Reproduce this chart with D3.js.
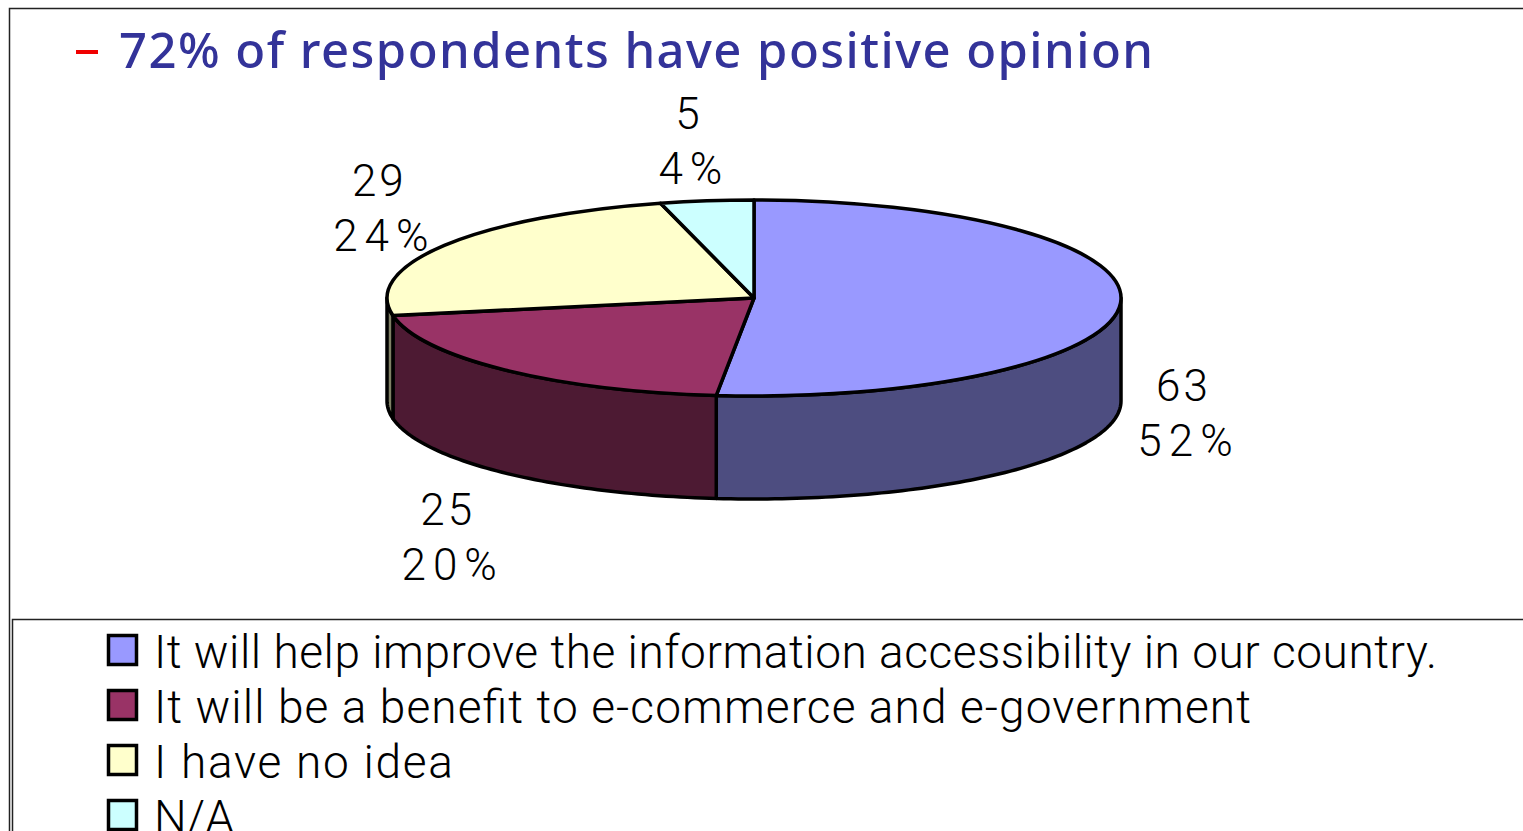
<!DOCTYPE html>
<html>
<head>
<meta charset="utf-8">
<title>Opinion survey</title>
<script src="https://cdn.jsdelivr.net/npm/d3@7/dist/d3.min.js"></script>
<style>
html, body { margin: 0; padding: 0; background: #fff; overflow: hidden; }
text { font-family: Roboto, "Liberation Sans", Arial, sans-serif; font-weight: 300; fill: #000; }
</style>
</head>
<body>
<svg id="chart" width="1523" height="831"></svg>
<script>
// Survey responses
const categories = [
  "It will help improve the information accessibility in our country.",
  "It will be a benefit to e-commerce and e-government",
  "I have no idea",
  "N/A"
];
const counts = [63, 25, 29, 5];
const percentLabels = ["52%", "20%", "24%", "4%"];
const headline = "72% of respondents have positive opinion";

const topColors = ["#9999ff", "#993366", "#ffffcc", "#ccffff"];
const wallColors = ["#4d4d80", "#4d1a33", "#808066", "#668080"];

// Ellipse geometry of the tilted pie
const cx = 754, cy = 298, rx = 367, ry = 98, depth = 103;
// Offset of each data label block from its slice's rim midpoint
const labelShift = [[68, 106], [-52, 163], [-60, -41], [-13, -64]];
const legendLengths = [1283, 1097, 299, 80];

const svg = d3.select("#chart");

// Slide frame and legend box
svg.append("path")
  .attr("d", "M9.5,831V8.5H1523")
  .attr("fill", "none").attr("stroke", "#222").attr("stroke-width", 1.5);
svg.append("path")
  .attr("d", "M12.5,831V619.5H1523")
  .attr("fill", "none").attr("stroke", "#222").attr("stroke-width", 1.5);

// Headline with its red dash bullet
svg.append("rect")
  .attr("x", 76).attr("y", 50).attr("width", 22).attr("height", 4).attr("fill", "#f00000");
svg.append("text")
  .attr("x", 119).attr("y", 68)
  .attr("textLength", 1034).attr("lengthAdjust", "spacing")
  .style("font-family", "'Noto Sans', sans-serif")
  .style("font-weight", 500)
  .style("font-size", "49px")
  .style("fill", "#333399")
  .text(headline);

// Slice angles run clockwise from twelve o'clock, in data order
const pie = d3.pie().sort(null);
const slices = pie(counts);

const px = a => cx + rx * Math.sin(a);
const py = (a, drop = 0) => cy - ry * Math.cos(a) + drop;
const rimLine = d3.line().x(d => d[0]).y(d => d[1]);
const sweep = (a0, a1, drop) => {
  const n = Math.max(2, Math.ceil((a1 - a0) / 0.02));
  return d3.range(n + 1).map(i => {
    const a = a0 + (a1 - a0) * i / n;
    return [px(a), py(a, drop)];
  });
};

// Outer walls for the part of the rim that faces the viewer
const frontStart = Math.PI / 2, frontEnd = Math.PI * 1.5;
const walls = svg.append("g");
slices.forEach((s, i) => {
  const a0 = Math.max(s.startAngle, frontStart);
  const a1 = Math.min(s.endAngle, frontEnd);
  if (a1 <= a0) return;
  const outline = sweep(a0, a1, 0).concat(sweep(a0, a1, depth).reverse());
  walls.append("path")
    .attr("d", rimLine(outline) + "Z")
    .attr("fill", wallColors[i])
    .attr("stroke", "#000").attr("stroke-width", 3.5).attr("stroke-linejoin", "round");
});

// Top faces: a flat d3 arc squashed into the ellipse
const arc = d3.arc().innerRadius(0).outerRadius(rx);
svg.append("g")
  .attr("transform", `translate(${cx},${cy}) scale(1,${ry / rx})`)
  .selectAll("path")
  .data(slices)
  .join("path")
  .attr("d", arc)
  .attr("fill", (d, i) => topColors[i])
  .attr("stroke", "#000")
  .attr("stroke-width", 3.5)
  .attr("stroke-linejoin", "round")
  .attr("vector-effect", "non-scaling-stroke");

// Data labels: count over percentage
const labels = svg.append("g");
slices.forEach((s, i) => {
  const mid = (s.startAngle + s.endAngle) / 2;
  const x = px(mid) + labelShift[i][0];
  const y = py(mid) + labelShift[i][1];
  [[counts[i], -5, -8, 3], [percentLabels[i], 0, 47, 7]].forEach(([t, dx, dy, gap]) => {
    labels.append("text")
      .attr("x", x + dx).attr("y", y + dy)
      .attr("text-anchor", "middle")
      .style("font-size", "44px")
      .style("letter-spacing", gap + "px")
      .text(t);
  });
});

// Legend
const legendY = d3.scalePoint().domain(d3.range(categories.length)).range([634, 799]);
const legend = svg.append("g");
categories.forEach((c, i) => {
  const y = legendY(i);
  legend.append("rect")
    .attr("x", 108.5).attr("y", y + 1.5)
    .attr("width", 28).attr("height", 29)
    .attr("fill", topColors[i])
    .attr("stroke", "#000").attr("stroke-width", 3.5);
  legend.append("text")
    .attr("x", 154).attr("y", y + 34)
    .attr("textLength", legendLengths[i]).attr("lengthAdjust", "spacing")
    .style("font-size", "46px")
    .text(c);
});
</script>
</body>
</html>
